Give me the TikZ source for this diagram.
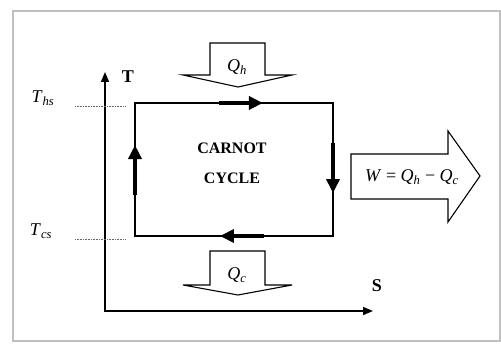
\documentclass[tikz,border=0pt]{standalone}
\usepackage{fontspec}
\setmainfont{Liberation Serif}
\usetikzlibrary{arrows.meta,calc}
\definecolor{framegray}{RGB}{192,192,192}
\definecolor{dotgray}{RGB}{105,105,105}
\newcommand\symsub[2]{\textit{#1}\textsubscript{\textit{#2}}}
\tikzset{
  blockarrow/.style={draw=black,line width=1.1pt,fill=white,line join=miter},
  flowarrow/.style={line width=3.6pt,-{Triangle[length=14pt,width=13pt]}},
  axisarrow/.style={line width=1.6pt,{Triangle[length=10pt,width=8pt]}-{Triangle[length=10pt,width=8pt]}},
  levelline/.style={dotgray,densely dotted,line width=0.6pt},
  boldlabel/.style={font=\bfseries\fontsize{16}{18}\selectfont},
  symlabel/.style={font=\fontsize{18}{20}\selectfont},
}

\begin{document}
\begin{tikzpicture}[x=1pt,y=-1pt]
\useasboundingbox (0,0) rectangle (501,344);
\draw[framegray,line width=1.5pt] (13,11) rectangle (500,341);
% T-S axes
\coordinate (O) at (105,311);
\coordinate (Ttip) at (105,72);
\coordinate (Stip) at (373,311);
\draw[axisarrow] (Ttip) -- (O) -- (Stip);
\node[boldlabel,font=\bfseries\fontsize{18}{20}\selectfont] (lblT) at (128,77) {T};
\node[boldlabel,font=\bfseries\fontsize{18}{20}\selectfont] (lblS) at (377,286) {S};
% temperature levels
\draw[levelline] (75,106) -- (126,106);
\draw[levelline] (75,239) -- (126,239);
\node[symlabel] (lblThs) at (43,98) {\symsub{T}{hs}};
\node[symlabel] (lblTcs) at (41,231) {\symsub{T}{cs}};
% the cycle
\coordinate (A) at (135,103);
\coordinate (B) at (333,103);
\coordinate (C) at (333,236);
\coordinate (D) at (135,236);
\draw[line width=1.8pt,line join=miter] (A) -- (B) -- (C) -- (D) -- cycle;
\foreach \p/\q/\s/\e in {A/B/.424/.646,B/C/.30/.677,C/D/.348/.571,D/A/.308/.684}
  \draw[flowarrow] ($(\p)!\s!(\q)$) -- ($(\p)!\e!(\q)$);
\node[boldlabel] (lblCarnot) at (232,148) {CARNOT};
\node[boldlabel] (lblCycle) at (232,178) {CYCLE};
% heat in, heat out, work
\draw[blockarrow] (210,43) -- (265,43) -- (265,75) -- (292,75) -- (238,87)
  -- (183,75) -- (210,75) -- cycle;
\node[symlabel] (lblQh) at (237,67) {\symsub{Q}{h}};
\draw[blockarrow] (210,251) -- (265,251) -- (265,285) -- (292,285) -- (238,295)
  -- (183,285) -- (210,285) -- cycle;
\node[symlabel] (lblQc) at (237,275) {\symsub{Q}{c}};
\draw[blockarrow] (351,154) -- (448,154) -- (448,131) -- (480,176) -- (448,222)
  -- (448,199) -- (351,199) -- cycle;
\node[symlabel] (lblW) at (412,177) {\textit{W} = \symsub{Q}{h} − \symsub{Q}{c}};
\end{tikzpicture}
\end{document}
